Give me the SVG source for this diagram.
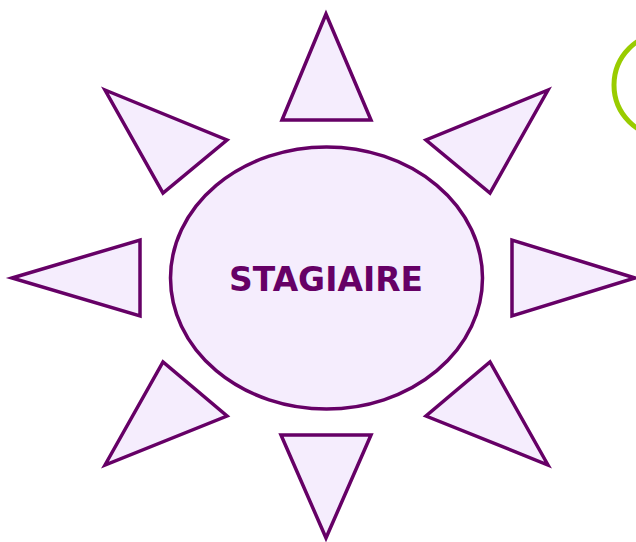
<svg xmlns="http://www.w3.org/2000/svg" width="636" height="542" viewBox="0 0 636 542">
<style>
.s{fill:#f5edfd;stroke:#660066;stroke-width:3.5;stroke-linejoin:miter}
.t{font-family:"DejaVu Sans",Verdana,sans-serif;font-weight:bold;font-size:33px;fill:#660066}
</style>
<rect width="636" height="542" fill="#ffffff"/>
<g id="ring"><circle cx="666" cy="85" r="52" fill="none" stroke="#99cc00" stroke-width="5"/></g>
<g id="ray-n"><polygon class="s" points="326,14 282,120 371,120"/></g>
<g id="ray-s"><polygon class="s" points="281,435 371,435 326,538"/></g>
<g id="ray-w"><polygon class="s" points="12,278 140,240 140,316"/></g>
<g id="ray-e"><polygon class="s" points="635,278 512,240 512,316"/></g>
<g id="ray-nw"><polygon class="s" points="105,90 227,140 163,193"/></g>
<g id="ray-ne"><polygon class="s" points="548,90 426,140 490,193"/></g>
<g id="ray-sw"><polygon class="s" points="105,465 163,362 227,416"/></g>
<g id="ray-se"><polygon class="s" points="548,465 490,362 426,416"/></g>
<g id="center">
<ellipse class="s" cx="326.5" cy="278" rx="156" ry="131"/>
<text class="t" x="326" y="291" text-anchor="middle" textLength="194" lengthAdjust="spacingAndGlyphs">STAGIAIRE</text>
</g>
<g id="connectors"/>
</svg>
